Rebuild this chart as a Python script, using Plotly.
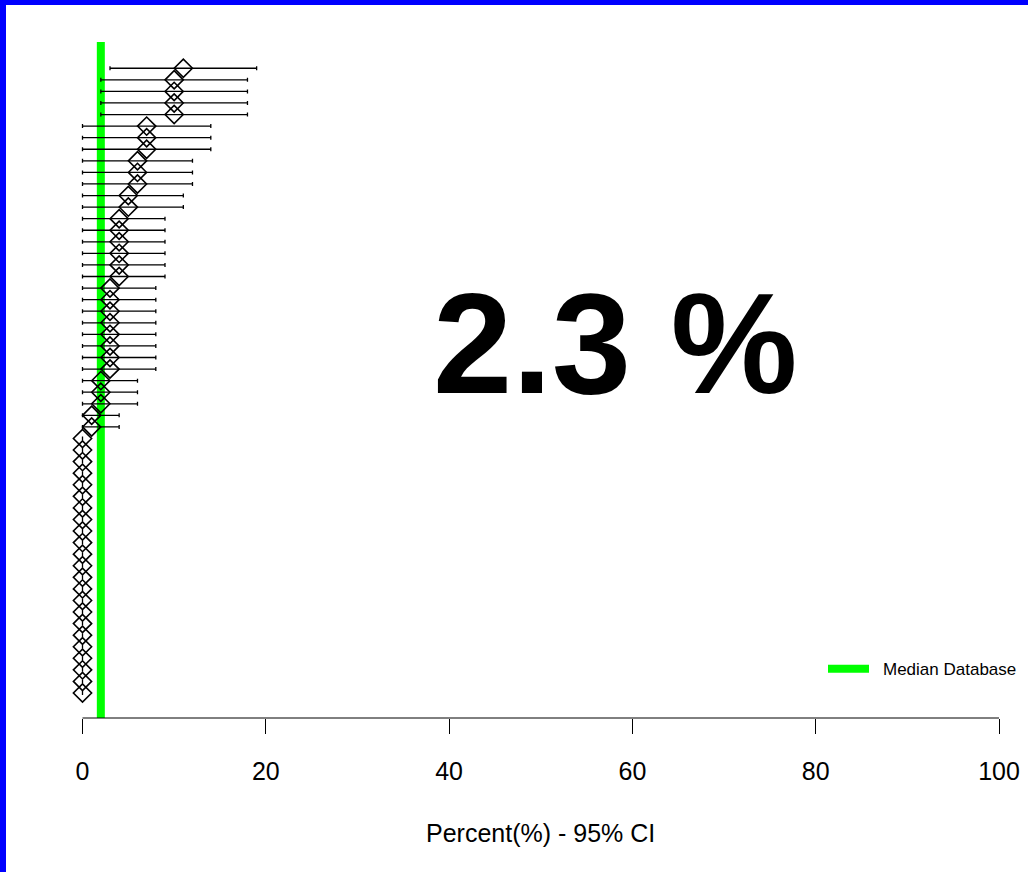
import plotly.graph_objects as go

# ---- data (rows top to bottom) ----
percent = [11, 10, 10, 10, 10, 7, 7, 7, 6, 6, 6, 5, 5,
           4, 4, 4, 4, 4, 4,
           3, 3, 3, 3, 3, 3, 3, 3,
           2, 2, 2, 1, 1] + [0] * 23
ci_low = [3, 2, 2, 2, 2] + [0] * 50
ci_high = [19, 18, 18, 18, 18, 14, 14, 14, 12, 12, 12, 11, 11,
           9, 9, 9, 9, 9, 9,
           8, 8, 8, 8, 8, 8, 8, 8,
           6, 6, 6, 4, 4] + [0] * 23
median_db = 2.0
site_value_label = "2.3 %"
x_ticks = [0, 20, 40, 60, 80, 100]
x_title = "Percent(%) - 95% CI"
legend_label = "Median Database"

n = len(percent)
rows = [n - i for i in range(n)]  # top row has highest y
err_plus = [h - p for h, p in zip(ci_high, percent)]
err_minus = [p - l for p, l in zip(percent, ci_low)]

FONT = "Liberation Sans, Arial, sans-serif"

# plot-area geometry (pixels)
W, H = 1028, 872
L, R, T, B = 46, 0, 42, 154
x_range = [-3.982, 103.16]
y_range = [-1.16, n + 2.27]
plot_h = H - T - B
plot_w = W - L - R

def py(pixel_y):
    """pixel y -> paper y"""
    return (H - B - pixel_y) / plot_h

def px(pixel_x):
    """pixel x -> paper x"""
    return (pixel_x - L) / plot_w

fig = go.Figure()

# median database line (drawn first, below the points)
fig.add_trace(go.Scatter(
    x=[median_db, median_db], y=y_range, mode="lines",
    line=dict(color="#00FF00", width=8), showlegend=False, hoverinfo="skip"))

# points with 95% CI
fig.add_trace(go.Scatter(
    x=percent, y=rows, mode="markers",
    marker=dict(symbol="diamond-open", size=14, color="black",
                line=dict(color="black", width=1.6)),
    error_x=dict(type="data", symmetric=False, array=err_plus,
                 arrayminus=err_minus, color="black", thickness=1.3, width=2),
    showlegend=False))

shapes = [
    # x axis line from first to last tick
    dict(type="line", xref="x", yref="paper", x0=x_ticks[0], x1=x_ticks[-1],
         y0=0, y1=0, line=dict(color="black", width=1)),
    # blue frame (left and top)
    dict(type="rect", xref="paper", yref="paper",
         x0=px(0), x1=px(6), y0=py(H), y1=py(0),
         fillcolor="#0000FF", line=dict(width=0), layer="above"),
    dict(type="rect", xref="paper", yref="paper",
         x0=px(0), x1=px(W), y0=py(5), y1=py(0),
         fillcolor="#0000FF", line=dict(width=0), layer="above"),
    # legend line
    dict(type="line", xref="paper", yref="paper",
         x0=px(828), x1=px(869), y0=py(668.7), y1=py(668.7),
         line=dict(color="#00FF00", width=8)),
]

annotations = [
    dict(text=site_value_label, x=px(614.5), y=py(344),
         xref="paper", yref="paper", xanchor="center", yanchor="middle",
         showarrow=False,
         font=dict(family=FONT, size=142.5, color="black", weight="bold")),
    dict(text=legend_label, x=px(881), y=py(669),
         xref="paper", yref="paper", xanchor="left", yanchor="middle",
         showarrow=False, font=dict(family=FONT, size=17, color="black")),
    dict(text=x_title, x=50, y=py(833), xref="x", yref="paper",
         xanchor="center", yanchor="middle", showarrow=False,
         font=dict(family=FONT, size=25, color="black")),
]

fig.update_layout(
    width=W, height=H,
    margin=dict(l=L, r=R, t=T, b=B, pad=0),
    paper_bgcolor="white", plot_bgcolor="white",
    shapes=shapes, annotations=annotations,
    xaxis=dict(range=x_range, tickvals=x_ticks, ticktext=[str(t) for t in x_ticks],
               ticks="outside", ticklen=15, tickwidth=1, tickcolor="black",
               showline=False, showgrid=False, zeroline=False,
               tickfont=dict(family=FONT, size=25, color="black"),
               ticklabelstandoff=16, fixedrange=True),
    yaxis=dict(range=y_range, visible=False, showgrid=False, zeroline=False,
               fixedrange=True),
    showlegend=False,
)

fig.write_html("out.html",
               config={"displayModeBar": False},
               post_script="document.body.style.margin='0px';"
                           "document.body.style.overflow='hidden';")
